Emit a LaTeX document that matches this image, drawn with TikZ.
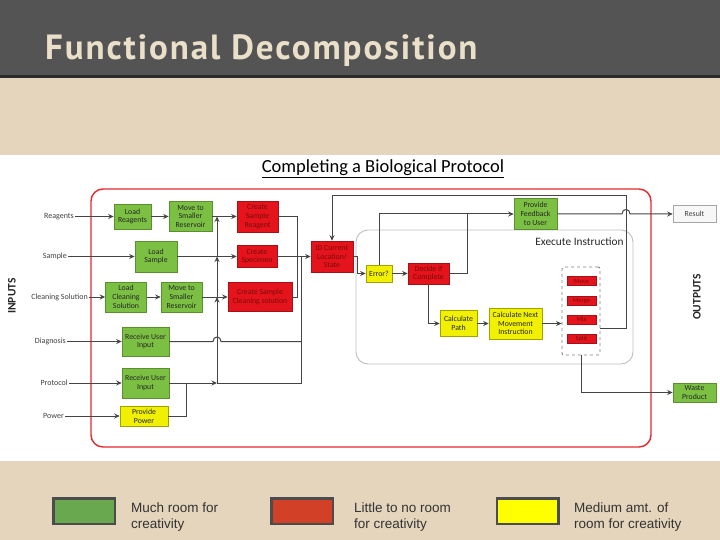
\documentclass[tikz,border=0pt]{standalone}
\usepackage{fontspec}
\setmainfont{Carlito}
\newfontfamily\titlefont[LetterSpace=5.5]{PT Sans}
\newfontfamily\legendfont{Liberation Sans}
\usetikzlibrary{arrows.meta,positioning}
\definecolor{barGray}{HTML}{545454}
\definecolor{barLine}{HTML}{2A2A2A}
\definecolor{paper}{HTML}{E4D5BC}
\definecolor{titleTxt}{HTML}{EADFC9}
\definecolor{grnFill}{HTML}{7BC043}
\definecolor{grnLine}{HTML}{5B8E2F}
\definecolor{redFill}{HTML}{E5141C}
\definecolor{redLine}{HTML}{A31218}
\definecolor{redTxt}{HTML}{7A0A0A}
\definecolor{yelFill}{HTML}{F0F000}
\definecolor{yelLine}{HTML}{A3A300}
\definecolor{wireGray}{HTML}{454545}
\definecolor{frameRed}{HTML}{E22A2E}
\definecolor{legGrn}{HTML}{6AA84F}
\definecolor{legRed}{HTML}{D24027}
\definecolor{legYel}{HTML}{FFFF00}

\begin{document}
\begin{tikzpicture}[x=1pt, y=-1pt, >={Stealth[length=5.5pt,width=5pt]},
  box/.style={draw, line width=0.6pt, align=center, inner sep=0.5pt, font=\fontsize{7.8}{8.8}\selectfont},
  gbox/.style={box, fill=grnFill, draw=grnLine, text=black!85},
  rbox/.style={box, fill=redFill, draw=redLine, text=redTxt},
  ybox/.style={box, fill=yelFill, draw=yelLine, text=black!85},
  act/.style={rbox, minimum width=29pt, minimum height=9pt, font=\fontsize{6.5}{6.5}\selectfont},
  lab/.style={anchor=east, inner sep=1pt, text=black!75, font=\fontsize{8}{9}\selectfont},
  wire/.style={draw=wireGray, line width=1pt},
  side/.style={rotate=90, font=\bfseries\fontsize{11.5}{13}\selectfont, text=black!85},
  legbox/.style={draw=black!70, line width=2.5pt, minimum width=61.5pt, minimum height=25.5pt},
  legtxt/.style={anchor=north west, align=left, inner sep=0pt, text=black!80, font=\legendfont\fontsize{13.5}{16.5}\selectfont}]
\fill[paper] (0,0) rectangle (720,540);
\fill[barGray] (0,0) rectangle (720,75);
\fill[barLine] (0,75) rectangle (720,78);
\fill[white] (0,155) rectangle (720,461);
\node[anchor=base west, inner sep=0pt, text=titleTxt, font=\titlefont\bfseries\fontsize{35}{40}\selectfont] (title) at (45,60) {Functional Decomposition};

\node[font=\fontsize{18.5}{21}\selectfont] (proto) at (383,169) {\underline{Completing a Biological Protocol}};
\draw[frameRed, line width=1.4pt, rounded corners=12pt] (91,189) rectangle (651,447);
\draw[black!25, line width=0.9pt, rounded corners=12pt] (356,230) rectangle (633,364);
\node[anchor=east, font=\fontsize{11.3}{13}\selectfont, text=black!85] (exeLab) at (627,242) {Execute Instruction};
\node[side] (inputs) at (12,296) {INPUTS};
\node[side] (outputs) at (697,297) {OUTPUTS};

\node[lab] (inReag) at (75,216.5) {Reagents};
\node[lab] (inSamp) at (68,256.5) {Sample};
\node[lab] (inClean) at (89,297) {Cleaning Solution};
\node[lab] (inDiag) at (67,341.5) {Diagnosis};
\node[lab] (inProt) at (69,383) {Protocol};
\node[lab] (inPow) at (65,416) {Power};

\node[gbox, minimum width=37pt, minimum height=25pt] (lr) at (132.5,216.5) {Load\\Reagents};
\node[gbox, minimum width=43pt, minimum height=30pt] (ms1) at (190.5,216.5) {Move to\\Smaller\\Reservoir};
\node[rbox, minimum width=41pt, minimum height=31pt] (csr) at (257.5,216.5) {Create\\Sample\\Reagent};
\node[gbox, minimum width=42pt, minimum height=31pt] (ls) at (156,256.5) {Load\\Sample};
\node[rbox, minimum width=40pt, minimum height=22pt] (cs) at (257,256.5) {Create\\Specimen};
\node[gbox, minimum width=41pt, minimum height=30pt] (lcs) at (126,297) {Load\\Cleaning\\Solution};
\node[gbox, minimum width=41pt, minimum height=30pt] (ms2) at (181.5,297) {Move to\\Smaller\\Reservoir};
\node[rbox, minimum width=64pt, minimum height=29pt] (csc) at (260,297) {Create Sample\\Cleaning solution};
\node[gbox, minimum width=47pt, minimum height=29pt] (rui1) at (145.5,341.5) {Receive User\\Input};
\node[gbox, minimum width=47pt, minimum height=30pt] (rui2) at (145.5,383) {Receive User\\Input};
\node[ybox, minimum width=48pt, minimum height=20pt] (pp) at (144,416) {Provide\\Power};

\node[rbox, minimum width=42pt, minimum height=31pt] (state) at (332,256.5) {ID Current\\Location/\\State};
\node[ybox, minimum width=26pt, minimum height=17pt] (err) at (379,273.5) {Error?};
\node[rbox, minimum width=41pt, minimum height=21pt] (dec) at (428.5,273.5) {Decide If\\Complete};
\node[gbox, minimum width=43pt, minimum height=31pt] (pf) at (535.5,214) {Provide\\Feedback\\to User};
\node[box, fill=black!3, draw=black!35, text=black!75, minimum width=43pt, minimum height=17pt] (res) at (694.5,214) {Result};
\node[ybox, minimum width=37pt, minimum height=26pt] (cp) at (458.5,323.5) {Calculate\\Path};
\node[ybox, minimum width=53pt, minimum height=31pt] (cn) at (515.5,323.5) {Calculate Next\\Movement\\Instruction};
\node[draw=black!50, dashed, line width=0.9pt, rounded corners=2pt, minimum width=38pt, minimum height=88pt] (grp) at (581,311) {};
\node[act] (mv) at (581.5,281) {Move};
\node[act] (mg) at (581.5,300.5) {Merge};
\node[act] (mx) at (581.5,319.5) {Mix};
\node[act] (sp) at (581.5,339) {Split};
\node[gbox, minimum width=43pt, minimum height=19pt] (wp) at (694.5,392.5) {Waste\\Product};

\draw[wire,->] (inReag.east) -- (lr.west);
\draw[wire,->] (lr.east) -- (ms1.west);
\draw[wire,->] (ms1.east) -- (csr.west);
\draw[wire,->] (inSamp.east) -- (ls.west);
\draw[wire,->] (ls.east) -- (cs.west);
\draw[wire,->] (inClean.east) -- (lcs.west);
\draw[wire,->] (lcs.east) -- (ms2.west);
\draw[wire,->] (ms2.east) -- (csc.west);
\draw[wire,->] (inDiag.east) -- (rui1.west);
\draw[wire,->] (inProt.east) -- (rui2.west);
\draw[wire,->] (inPow.east) -- (pp.west);

\coordinate (busL) at (217,383);
\coordinate (busR) at (301,383);
\coordinate (hopD) at (busL |- rui1.east);
\draw[wire] (pp.east) -| ([xshift=17pt]rui2.east);
\draw[wire,->] (rui2.east) -- (busL);
\draw[wire,->] (busL) -- (busL |- csc.west);
\draw[wire,->] (busL |- csc.west) -- (busL |- cs.west);
\draw[wire,->] (busL |- cs.west) -- (busL |- csr.west);
\draw[wire] (busL) -- (busR) -- (busR |- state.west);
\draw[wire] (rui1.east) -- ([xshift=-4pt]hopD) .. controls +(0,-6) and +(0,-6) .. ([xshift=4pt]hopD) -- (busR |- hopD);
\draw[wire] (csr.east) -- ++(19,0) |- (csc.east);
\draw[wire,->] (cs.east) -- (state.west);

\coordinate (loopR) at (626,196);
\coordinate (hopR) at (loopR |- pf.east);
\draw[wire,->] (state.east) -- ++(4,0) |- (err.west);
\draw[wire,->] (err.east) -- (dec.west);
\draw[wire,->] (err.north) |- (pf.west);
\draw[wire] (dec.east) -| ([xshift=-46pt]pf.west);
\draw[wire,->] (dec.south) |- (cp.west);
\draw[wire,->] (cp.east) -- (cn.west);
\draw[wire,->] (cn.east) -- (cn.east -| grp.west);
\draw[wire,->] ([yshift=-17pt]grp.east) -| (loopR) -| (state.north);
\draw[wire,->] (pf.east) -- ([xshift=-4pt]hopR) .. controls +(0,-6) and +(0,-6) .. ([xshift=4pt]hopR) -- (res.west);
\draw[wire,->] (grp.south) |- (wp.west);

\node[legbox, fill=legGrn] (keyG) at (84,511) {};
\node[legtxt] (keyGt) at (131,502.5) {Much room for\\creativity};
\node[legbox, fill=legRed] (keyR) at (302,511) {};
\node[legtxt] (keyRt) at (354,502.5) {Little to no room\\for creativity};
\node[legbox, fill=legYel] (keyY) at (527.5,511) {};
\node[legtxt] (keyYt) at (574,502.5) {Medium amt. of\\room for creativity};
\end{tikzpicture}
\end{document}
